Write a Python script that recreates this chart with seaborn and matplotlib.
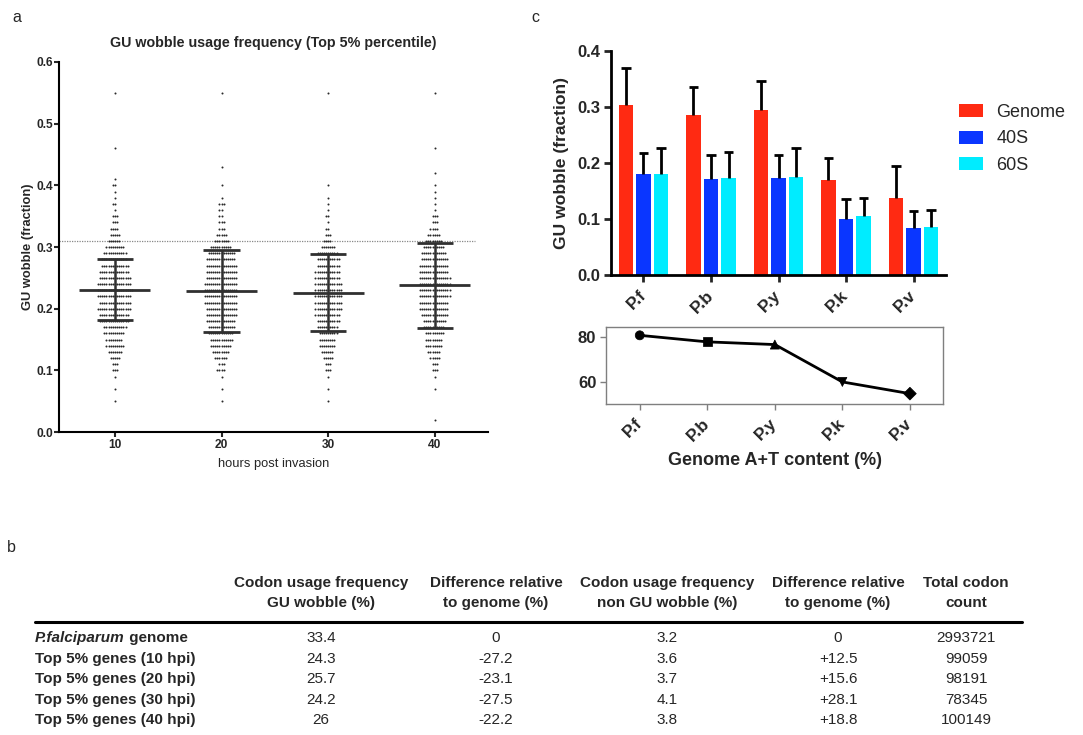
import numpy as np
import pandas as pd
import matplotlib
matplotlib.use("Agg")
import matplotlib.pyplot as plt
import seaborn as sns
from matplotlib.lines import Line2D

# ---------------- panel a data ----------------
hpi_labels = ["10", "20", "30", "40"]
gu_levels = [0.02, 0.03, 0.04, 0.05, 0.06, 0.07, 0.08, 0.09, 0.10, 0.11,
             0.12, 0.13, 0.14, 0.15, 0.16, 0.17, 0.18, 0.19, 0.20, 0.21,
             0.22, 0.23, 0.24, 0.25, 0.26, 0.27, 0.28, 0.29, 0.30, 0.31,
             0.32, 0.33, 0.34, 0.35, 0.36, 0.37, 0.38, 0.39, 0.40, 0.41,
             0.42, 0.43, 0.44, 0.45, 0.46, 0.47, 0.48, 0.49, 0.50, 0.51,
             0.52, 0.53, 0.54, 0.55]
counts_10h = [0, 0, 0, 1, 0, 1, 0, 1, 3, 3,
              5, 7, 9, 8, 10, 11, 14, 14, 16, 15,
              16, 17, 16, 15, 14, 13, 12, 11, 9, 6,
              5, 4, 3, 3, 1, 2, 1, 1, 2, 1,
              0, 0, 0, 0, 1, 0, 0, 0, 0, 0,
              0, 0, 0, 1]
counts_20h = [0, 0, 0, 1, 0, 1, 0, 1, 4, 3,
              6, 8, 10, 11, 12, 13, 14, 15, 15, 16,
              16, 16, 16, 15, 15, 15, 14, 13, 10, 7,
              5, 3, 3, 2, 2, 3, 1, 0, 1, 0,
              0, 1, 0, 0, 0, 0, 0, 0, 0, 0,
              0, 0, 0, 1]
counts_30h = [0, 0, 0, 1, 0, 1, 0, 1, 3, 3,
              5, 6, 8, 8, 9, 10, 11, 12, 13, 13,
              13, 13, 13, 12, 12, 11, 11, 10, 7, 4,
              3, 2, 1, 2, 1, 1, 1, 0, 1, 0,
              0, 0, 0, 0, 0, 0, 0, 0, 0, 0,
              0, 0, 0, 1]
counts_40h = [1, 0, 0, 0, 0, 1, 0, 1, 3, 3,
              5, 6, 8, 8, 9, 10, 11, 13, 14, 14,
              15, 15, 15, 15, 14, 14, 13, 12, 10, 8,
              6, 4, 3, 3, 1, 1, 1, 1, 1, 0,
              1, 0, 0, 0, 1, 0, 0, 0, 0, 0,
              0, 0, 0, 1]
mean_gu = [0.231, 0.228, 0.226, 0.238]
sd_low = [0.182, 0.162, 0.163, 0.169]
sd_high = [0.280, 0.295, 0.289, 0.307]
genome_line = 0.31

# ---------------- panel c data ----------------
species = ["P.f", "P.b", "P.y", "P.k", "P.v"]
fractions = ["Genome", "40S", "60S"]
genome_gu = [0.304, 0.285, 0.294, 0.170, 0.138]
s40_gu = [0.180, 0.172, 0.174, 0.100, 0.084]
s60_gu = [0.180, 0.173, 0.175, 0.105, 0.086]
genome_err = [0.066, 0.051, 0.053, 0.039, 0.056]
s40_err = [0.038, 0.042, 0.040, 0.036, 0.031]
s60_err = [0.047, 0.047, 0.052, 0.033, 0.030]
at_content = [80.7, 77.8, 76.6, 60.0, 54.8]
at_markers = ["o", "s", "^", "v", "D"]
bar_colors = ["#FF2A12", "#0A36FF", "#00ECFF"]

# ---------------- panel b (table) data ----------------
col_headers = [("Codon usage frequency", "GU wobble (%)"),
               ("Difference relative", "to genome (%)"),
               ("Codon usage frequency", "non GU wobble (%)"),
               ("Difference relative", "to genome (%)"),
               ("Total codon", "count")]
row_labels = ["genome", "Top 5% genes (10 hpi)", "Top 5% genes (20 hpi)",
              "Top 5% genes (30 hpi)", "Top 5% genes (40 hpi)"]
col_gu = ["33.4", "24.3", "25.7", "24.2", "26"]
col_gu_diff = ["0", "-27.2", "-23.1", "-27.5", "-22.2"]
col_non = ["3.2", "3.6", "3.7", "4.1", "3.8"]
col_non_diff = ["0", "+12.5", "+15.6", "+28.1", "+18.8"]
col_total = ["2993721", "99059", "98191", "78345", "100149"]

# ---------------- styling ----------------
sns.set_theme(style="ticks")
plt.rcParams["font.family"] = ["Liberation Sans", "DejaVu Sans"]
plt.rcParams["axes.edgecolor"] = "black"

W, H = 1083, 735
fig = plt.figure(figsize=(W / 100, H / 100), dpi=100)


def fx(px):
    return px / W


def fy(py):
    return 1 - py / H


# ================= panel a =================
axa = fig.add_axes([fx(59), fy(432), fx(488) - fx(59), fy(62) - fy(432)])
recs = []
for lab, cnt in zip(hpi_labels, [counts_10h, counts_20h, counts_30h, counts_40h]):
    for v in np.repeat(gu_levels, cnt):
        recs.append((lab, v))
df_a = pd.DataFrame(recs, columns=["hpi", "gu"])
sns.swarmplot(data=df_a, x="hpi", y="gu", order=hpi_labels, color="#2a2a2a",
              size=1.45, linewidth=0, ax=axa, zorder=2)
pos = np.arange(len(hpi_labels))
axa.hlines(mean_gu, pos - 0.333, pos + 0.333, color="#303030", lw=2, zorder=4)
axa.hlines(sd_low, pos - 0.17, pos + 0.17, color="#303030", lw=2, zorder=4)
axa.hlines(sd_high, pos - 0.17, pos + 0.17, color="#303030", lw=2, zorder=4)
axa.vlines(pos, sd_low, sd_high, color="#303030", lw=1.8, zorder=4)
axa.axhline(genome_line, xmin=0, xmax=0.97, color="#888888", lw=0.9,
            ls=(0, (1, 1)), zorder=1)
axa.set_xlim(-0.525, 3.5)
axa.set_ylim(0, 0.6)
axa.set_yticks([0.0, 0.1, 0.2, 0.3, 0.4, 0.5, 0.6])
axa.set_yticklabels([f"{t:.1f}" for t in [0.0, 0.1, 0.2, 0.3, 0.4, 0.5, 0.6]])
for sp in ["top", "right"]:
    axa.spines[sp].set_visible(False)
for sp in ["left", "bottom"]:
    axa.spines[sp].set_linewidth(1.5)
axa.tick_params(axis="both", direction="out", length=3.5, width=1.5,
                labelsize=8.6, pad=0.5)
axa.tick_params(axis="x", pad=1.5)
for t in axa.get_xticklabels() + axa.get_yticklabels():
    t.set_fontweight("bold")
axa.set_xlabel("hours post invasion", fontsize=9.3, labelpad=5)
axa.set_ylabel("GU wobble (fraction)", fontsize=9.3, fontweight="bold", labelpad=2)
axa.set_title("GU wobble usage frequency (Top 5% percentile)", fontsize=10.3,
              fontweight="bold", pad=11)

# ================= panel c (bars) =================
axc = fig.add_axes([fx(611), fy(275), fx(946) - fx(611), fy(51) - fy(275)])
df_c = pd.DataFrame({
    "species": species * 3,
    "fraction": sum([[f] * len(species) for f in fractions], []),
    "gu": genome_gu + s40_gu + s60_gu,
})
sns.barplot(data=df_c, x="species", y="gu", hue="fraction", order=species,
            hue_order=fractions, palette=bar_colors, width=0.78, gap=0.19,
            errorbar=None, saturation=1, ax=axc, linewidth=0, zorder=2)
for cont, errs in zip(axc.containers, [genome_err, s40_err, s60_err]):
    xs = np.array([p.get_x() + p.get_width() / 2 for p in cont.patches])
    ys = np.array([p.get_height() for p in cont.patches])
    tops = ys + np.array(errs)
    axc.vlines(xs, ys, tops, color="black", lw=2, zorder=3)
    axc.hlines(tops, xs - 0.07, xs + 0.07, color="black", lw=2, zorder=3)
axc.set_xlim(-0.48, 4.48)
axc.set_ylim(0, 0.4)
axc.set_yticks([0.0, 0.1, 0.2, 0.3, 0.4])
axc.set_yticklabels(["0.0", "0.1", "0.2", "0.3", "0.4"])
for sp in ["top", "right"]:
    axc.spines[sp].set_visible(False)
for sp in ["left", "bottom"]:
    axc.spines[sp].set_linewidth(2)
axc.tick_params(axis="both", direction="out", length=5, width=2,
                labelsize=12, pad=3)
axc.set_xticks(range(len(species)))
axc.set_xticklabels(species, rotation=45, ha="right", va="center",
                    rotation_mode="anchor", fontweight="bold", fontsize=12.5)
axc.tick_params(axis="x", pad=8)
for t in axc.get_yticklabels():
    t.set_fontweight("bold")
axc.set_xlabel("")
axc.set_ylabel("GU wobble (fraction)", fontsize=12.6, fontweight="bold", labelpad=6)
leg = axc.legend(loc="upper left", bbox_to_anchor=(fx(959), fy(104)),
                 bbox_transform=fig.transFigure, frameon=False, fontsize=13,
                 handlelength=1.33, handleheight=0.72, handletextpad=0.75,
                 labelspacing=0.52, borderpad=0, borderaxespad=0)

# ================= panel c (A+T content) =================
axl = fig.add_axes([fx(606), fy(404), fx(943) - fx(606), fy(327) - fy(404)])
df_l = pd.DataFrame({"species": species, "at": at_content})
sns.lineplot(data=df_l, x="species", y="at", color="black", lw=2, ax=axl,
             sort=False, zorder=2)
sns.scatterplot(data=df_l, x="species", y="at", style="species",
                markers=dict(zip(species, at_markers)), color="black",
                s=42, edgecolor="black", ax=axl, zorder=3, legend=False)
axl.set_xlim(-0.5, 4.49)
axl.set_ylim(50.2, 84.4)
axl.set_yticks([60, 80])
for sp in axl.spines.values():
    sp.set_color("#7f7f7f")
    sp.set_linewidth(1)
axl.tick_params(axis="y", direction="out", length=4, width=1, color="#7f7f7f",
                labelsize=12, pad=3)
axl.tick_params(axis="x", direction="out", length=4, width=1, color="#7f7f7f",
                pad=8)
axl.set_xticks(range(len(species)))
axl.set_xticklabels(species, rotation=45, ha="right", va="center",
                    rotation_mode="anchor", fontweight="bold", fontsize=12.5)
for t in axl.get_yticklabels():
    t.set_fontweight("bold")
axl.set_ylabel("")
axl.set_xlabel("Genome A+T content (%)", fontsize=13, fontweight="bold",
               labelpad=6)

# ================= panel labels =================
fig.text(fx(17), fy(17), "a", fontsize=11.5, ha="center", va="center")
fig.text(fx(535), fy(17), "c", fontsize=11.5, ha="center", va="center")
fig.text(fx(11), fy(547), "b", fontsize=11.5, ha="center", va="center")

# ================= panel b (table) =================
tfs = 11
col_x = [321, 496, 667, 838, 966]
for cx, (h1, h2) in zip(col_x, col_headers):
    fig.text(fx(cx), fy(583), h1, fontsize=tfs, fontweight="bold",
             ha="center", va="center")
    fig.text(fx(cx), fy(603), h2, fontsize=tfs, fontweight="bold",
             ha="center", va="center")
fig.add_artist(Line2D([fx(35), fx(1022)], [fy(622), fy(622)],
                      transform=fig.transFigure, color="black", lw=2.2))
row_y = [638, 659, 679, 700, 720]
for i, (ry, lab) in enumerate(zip(row_y, row_labels)):
    if i == 0:
        t1 = fig.text(fx(35), fy(ry), "P.falciparum", fontsize=tfs,
                      fontweight="bold", style="italic", ha="left", va="center")
        fig.canvas.draw()
        bb = t1.get_window_extent()
        fig.text(bb.x1 / W, fy(ry), " " + lab, fontsize=tfs,
                 fontweight="bold", ha="left", va="center")
    else:
        fig.text(fx(35), fy(ry), lab, fontsize=tfs, fontweight="bold",
                 ha="left", va="center")
    for cx, col in zip(col_x, [col_gu, col_gu_diff, col_non, col_non_diff, col_total]):
        fig.text(fx(cx), fy(ry), col[i], fontsize=tfs, ha="center", va="center")

fig.savefig("out.png", dpi=100)
